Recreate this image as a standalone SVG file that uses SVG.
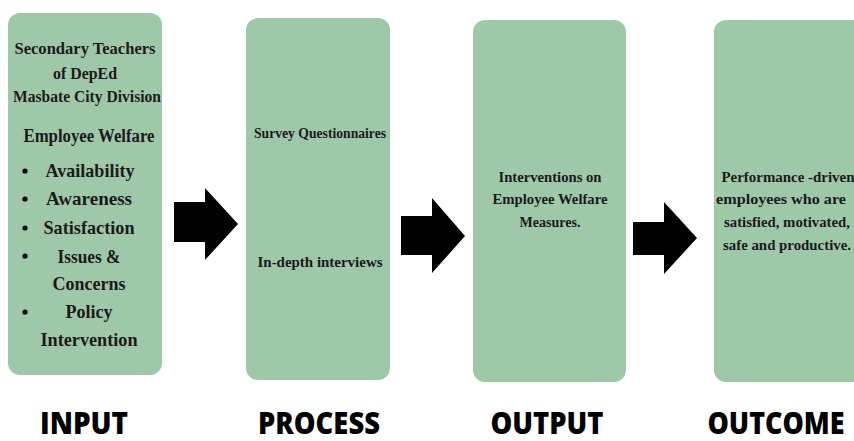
<svg xmlns="http://www.w3.org/2000/svg" width="854" height="441" viewBox="0 0 854 441">
  <style>
    .box { fill: #9fc8a9; }
    .t { font-family: "Liberation Serif", "DejaVu Serif", serif; font-weight: bold; fill: #1a1a1a; text-anchor: middle; }
    .lbl { font-family: "Open Sans", "Liberation Sans", sans-serif; font-weight: 800; font-size: 27px; fill: #000; text-anchor: middle; }
    .arrow { fill: #000; }
  </style>
  <rect width="854" height="441" fill="#ffffff"/>

  <g id="input">
    <rect class="box" x="8" y="13" width="154" height="362" rx="12"/>
    <text class="t" font-size="17" x="85" y="54" textLength="141" lengthAdjust="spacingAndGlyphs">Secondary Teachers</text>
    <text class="t" font-size="17" x="85" y="79" textLength="64" lengthAdjust="spacingAndGlyphs">of DepEd</text>
    <text class="t" font-size="17" x="87" y="102" textLength="148" lengthAdjust="spacingAndGlyphs">Masbate City Division</text>
    <text class="t" font-size="18" x="89" y="142" textLength="131" lengthAdjust="spacingAndGlyphs">Employee Welfare</text>
    <g>
      <circle cx="25" cy="171" r="2.6"/>
      <text class="t" font-size="19" x="90" y="177" textLength="89" lengthAdjust="spacingAndGlyphs">Availability</text>
      <circle cx="25" cy="199" r="2.6"/>
      <text class="t" font-size="19" x="89" y="205" textLength="86" lengthAdjust="spacingAndGlyphs">Awareness</text>
      <circle cx="25" cy="228" r="2.6"/>
      <text class="t" font-size="19" x="89" y="234" textLength="91" lengthAdjust="spacingAndGlyphs">Satisfaction</text>
      <circle cx="25" cy="256" r="2.6"/>
      <text class="t" font-size="19" x="89" y="263" textLength="63" lengthAdjust="spacingAndGlyphs">Issues &amp;</text>
      <text class="t" font-size="19" x="89" y="290" textLength="73" lengthAdjust="spacingAndGlyphs">Concerns</text>
      <circle cx="25" cy="312" r="2.6"/>
      <text class="t" font-size="19" x="89" y="318" textLength="47" lengthAdjust="spacingAndGlyphs">Policy</text>
      <text class="t" font-size="19" x="89" y="346" textLength="97" lengthAdjust="spacingAndGlyphs">Intervention</text>
    </g>
  </g>

  <g id="process">
    <rect class="box" x="246" y="18" width="144" height="362" rx="12"/>
    <text class="t" font-size="14" x="320" y="138" textLength="132" lengthAdjust="spacingAndGlyphs">Survey Questionnaires</text>
    <text class="t" font-size="14" x="320" y="267" textLength="125" lengthAdjust="spacingAndGlyphs">In-depth interviews</text>
  </g>

  <g id="output">
    <rect class="box" x="473" y="20" width="153" height="362" rx="12"/>
    <text class="t" font-size="14" x="550" y="182" textLength="103" lengthAdjust="spacingAndGlyphs">Interventions on</text>
    <text class="t" font-size="14" x="550" y="204" textLength="115" lengthAdjust="spacingAndGlyphs">Employee Welfare</text>
    <text class="t" font-size="14" x="550" y="227" textLength="61" lengthAdjust="spacingAndGlyphs">Measures.</text>
  </g>

  <g id="outcome">
    <rect class="box" x="714" y="20" width="160" height="362" rx="12"/>
    <text class="t" font-size="14" x="788" y="182" textLength="133" lengthAdjust="spacingAndGlyphs">Performance -driven</text>
    <text class="t" font-size="14" x="781" y="204" textLength="130" lengthAdjust="spacingAndGlyphs">employees who are</text>
    <text class="t" font-size="14" x="787" y="227" textLength="126" lengthAdjust="spacingAndGlyphs">satisfied, motivated,</text>
    <text class="t" font-size="14" x="787" y="250" textLength="128" lengthAdjust="spacingAndGlyphs">safe and productive.</text>
  </g>

  <g id="connectors">
    <polygon class="arrow" points="174,202 205,202 205,188 238,224 205,260 205,242 174,242"/>
    <polygon class="arrow" points="401,216 432,216 432,198 465,236 432,273 432,255 401,255"/>
    <polygon class="arrow" points="633,222 664,222 664,202 697,238 664,274 664,255 633,255"/>
  </g>

  <!-- stage captions, stretched vertically for a condensed look -->
  <g id="labels" transform="translate(0,434) scale(1,1.12)">
    <text class="lbl" x="84" y="0" textLength="88" lengthAdjust="spacingAndGlyphs">INPUT</text>
    <text class="lbl" x="319" y="0" textLength="122" lengthAdjust="spacingAndGlyphs">PROCESS</text>
    <text class="lbl" x="547" y="0" textLength="113" lengthAdjust="spacingAndGlyphs">OUTPUT</text>
    <text class="lbl" x="776" y="0" textLength="137" lengthAdjust="spacingAndGlyphs">OUTCOME</text>
  </g>
</svg>
